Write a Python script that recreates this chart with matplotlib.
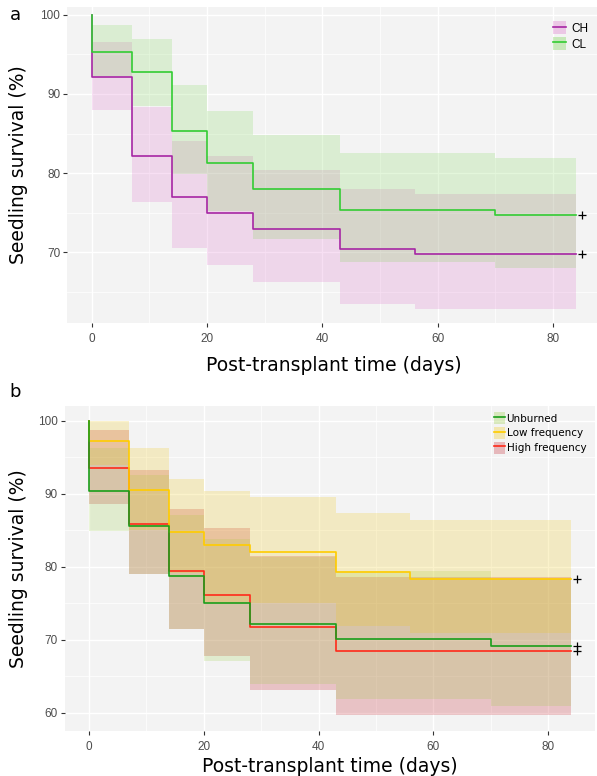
# Kaplan-Meier seedling survival, two panels (a: CH vs CL, b: fire frequency)

import matplotlib
matplotlib.use('Agg')
import matplotlib.pyplot as plt
from matplotlib.patches import Patch
from matplotlib.lines import Line2D
import numpy as np

# step times (days); the curve starts at 100 % and drops at day 0
times = [0, 7, 14, 20, 28, 43, 56, 70, 84]
censor_day = 85

# panel a
ch_surv = [92.1, 82.2, 77.0, 75.0, 73.0, 70.4, 69.8, 69.8]
ch_upper = [96.5, 88.4, 84.0, 82.2, 80.4, 78.0, 77.4, 77.4]
ch_lower = [88.0, 76.4, 70.5, 68.4, 66.3, 63.5, 62.8, 62.8]
cl_surv = [95.3, 92.7, 85.3, 81.3, 78.0, 75.3, 75.3, 74.7]
cl_upper = [98.7, 96.9, 91.1, 87.8, 84.8, 82.5, 82.5, 81.9]
cl_lower = [92.2, 88.5, 79.9, 75.2, 71.7, 68.8, 68.8, 68.0]

# panel b
unb_surv = [90.4, 85.6, 78.8, 75.1, 72.2, 70.2, 70.2, 69.2]
unb_upper = [96.3, 92.6, 87.1, 83.8, 81.3, 79.5, 79.5, 78.3]
unb_lower = [84.9, 79.0, 71.5, 67.1, 64.0, 61.9, 61.9, 60.9]
low_surv = [97.2, 90.5, 84.8, 83.0, 82.1, 79.35, 78.4, 78.4]
low_upper = [100.0, 96.3, 92.0, 90.4, 89.6, 87.35, 86.5, 86.5]
low_lower = [94.0, 85.0, 79.2, 75.1, 75.1, 71.9, 70.9, 70.9]
high_surv = [93.5, 85.9, 79.4, 76.1, 71.8, 68.5, 68.5, 68.5]
high_upper = [98.7, 93.3, 88.0, 85.3, 81.5, 78.6, 78.6, 78.6]
high_lower = [88.6, 79.0, 71.5, 67.85, 63.15, 59.7, 59.7, 59.7]

bg = '#F3F3F3'
tick_col = '#4D4D4D'


def band(ax, upper, lower, color, alpha):
    t = np.array(times, dtype=float)
    up = np.array(upper + [upper[-1]])
    lo = np.array(lower + [lower[-1]])
    ax.fill_between(t, lo, up, step='post', color=color, alpha=alpha,
                    linewidth=0, zorder=2)


def curve(ax, surv, color):
    t = np.array(times, dtype=float)
    s = np.array(surv + [surv[-1]])
    ax.plot(np.r_[0, t], np.r_[100, s], drawstyle='steps-post', color=color,
            lw=1.2, zorder=3)
    ax.plot(censor_day, surv[-1], marker='+', color='black', ms=6, mew=0.9,
            zorder=4, ls='none')


def style(ax, ylim, yticks, yminor, xlab_y, ylab_x):
    ax.set_facecolor(bg)
    ax.set_xlim(-4.2, 88.2)
    ax.set_ylim(*ylim)
    ax.set_xticks([0, 20, 40, 60, 80])
    ax.set_xticks([10, 30, 50, 70], minor=True)
    ax.set_yticks(yticks)
    ax.set_yticks(yminor, minor=True)
    ax.grid(which='major', color='white', lw=1.0, zorder=0)
    ax.grid(which='minor', color='white', lw=0.5, zorder=0)
    ax.set_axisbelow(True)
    for s in ax.spines.values():
        s.set_visible(False)
    ax.tick_params(which='major', length=3, width=0.8, color='#333333',
                   labelcolor=tick_col, labelsize=8.5, pad=2)
    ax.tick_params(axis='x', which='major', pad=4)
    ax.tick_params(which='minor', length=0)
    for lab in ax.get_xticklabels() + ax.get_yticklabels():
        lab.set_family('Liberation Sans')
    ax.set_xlabel('Post-transplant time (days)', fontsize=13.5)
    ax.set_ylabel('Seedling survival (%)', fontsize=13.5)
    ax.xaxis.set_label_coords(0.5, xlab_y)
    ax.yaxis.set_label_coords(ylab_x, 0.5)
    ax.xaxis.label.set_va('center')
    ax.yaxis.label.set_va('center')


def entry(fill, line, alpha):
    return (Patch(facecolor=fill, alpha=alpha, lw=0),
            Line2D([], [], color=line, lw=1.2))


fig = plt.figure(figsize=(5.97, 7.76), dpi=100)

# panel a
ch_line, ch_fill = '#A626A4', '#DA62C6'
cl_line, cl_fill = '#33CC33', '#76D54E'
ax1 = fig.add_axes([0.1127, 0.5838, 0.893, 0.4076])
band(ax1, ch_upper, ch_lower, ch_fill, 0.2)
band(ax1, cl_upper, cl_lower, cl_fill, 0.2)
curve(ax1, ch_surv, ch_line)
curve(ax1, cl_surv, cl_line)
style(ax1, (61.1, 101.0), [70, 80, 90, 100], [65, 75, 85, 95], -0.136, -0.092)
ax1.legend([entry(ch_fill, ch_line, 0.3), entry(cl_fill, cl_line, 0.35)],
           ['CH', 'CL'], loc='upper right',
           bbox_to_anchor=(0.999, 0.983), bbox_transform=fig.transFigure,
           frameon=False, prop={'family': 'Liberation Sans', 'size': 8.5},
           handlelength=1.1, handleheight=1.3, handletextpad=0.4,
           labelspacing=0.2, borderpad=0.2)
fig.text(0.026, 0.981, 'a', fontsize=13, ha='center', va='center')

# panel b
unb_line, unb_fill = '#1A9E1A', '#96CD3C'
low_line, low_fill = '#FFCC00', '#F0C814'
high_line, high_fill = '#FF2A1A', '#C8323C'
ax2 = fig.add_axes([0.1087, 0.0577, 0.8883, 0.4191])
band(ax2, high_upper, high_lower, high_fill, 0.25)
band(ax2, unb_upper, unb_lower, unb_fill, 0.2)
band(ax2, low_upper, low_lower, low_fill, 0.22)
curve(ax2, high_surv, high_line)
curve(ax2, low_surv, low_line)
curve(ax2, unb_surv, unb_line)
style(ax2, (57.5, 102.05), [60, 70, 80, 90, 100], [65, 75, 85, 95], -0.108, -0.088)
ax2.legend([entry(unb_fill, unb_line, 0.3), entry(low_fill, low_line, 0.3),
            entry(high_fill, high_line, 0.3)],
           ['Unburned', 'Low frequency', 'High frequency'],
           loc='upper right', bbox_to_anchor=(0.994, 0.478),
           bbox_transform=fig.transFigure, frameon=False,
           prop={'family': 'DejaVu Sans', 'size': 7.5},
           handlelength=1.1, handleheight=1.4, handletextpad=0.1,
           labelspacing=0.25, borderpad=0.2)
fig.text(0.026, 0.495, 'b', fontsize=13, ha='center', va='center')

fig.savefig('out.png', dpi=100)
